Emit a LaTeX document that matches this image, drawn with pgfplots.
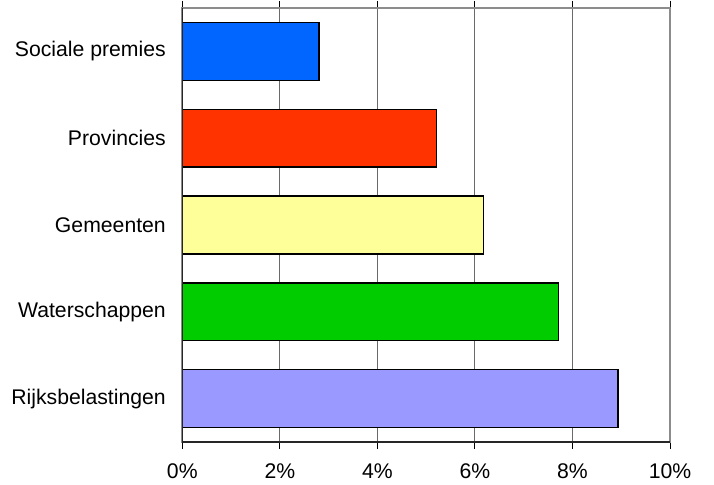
\documentclass[border=0pt]{standalone}
\usepackage{pgfplots}
\pgfplotsset{compat=1.18}
\usepackage{fontspec}
\setmainfont{Liberation Sans}

\definecolor{barblue}{HTML}{0066FF}
\definecolor{barred}{HTML}{FF3300}
\definecolor{baryellow}{HTML}{FFFF99}
\definecolor{bargreen}{HTML}{00CC00}
\definecolor{barlilac}{HTML}{9999FF}
\definecolor{gridgray}{HTML}{6A6A6A}
\definecolor{framegray}{HTML}{8C8C8C}

\begin{document}
\begin{tikzpicture}
\useasboundingbox (0,0) rectangle (714bp,485bp);
\begin{axis}[
  at={(182.3bp,43bp)}, anchor=south west,
  scale only axis,
  width=487.7bp, height=434bp,
  xbar, bar width=0.665, bar shift=0pt,
  xmin=0, xmax=10,
  ymin=-0.5, ymax=4.5,
  xtick={0,2,...,10},
  xticklabels={0\%,2\%,4\%,6\%,8\%,10\%},
  ytick={0,1,2,3,4},
  yticklabels={Rijksbelastingen,Waterschappen,Gemeenten,Provincies,Sociale premies},
  extra y ticks={-0.5,0.5,1.5,2.5,3.5,4.5},
  extra y tick labels={},
  extra y tick style={major tick length=6bp, grid=none, tick style={black, line width=1bp}},
  ytick style={draw=none},
  tick align=outside,
  xtick style={black, line width=1bp},
  major tick length=7bp,
  xmajorgrids,
  major grid style={gridgray, line width=1.1bp},
  axis line style={framegray, line width=1.6bp},
  tick label style={font=\fontsize{21.2bp}{25bp}\selectfont, text=black},
  xticklabel style={yshift=-11bp},
  yticklabel style={xshift=-6bp},
  every axis plot/.append style={draw=black, line width=1.4bp},
  clip=false,
]
\addplot[fill=barlilac]  coordinates {(8.93,0)};
\addplot[fill=bargreen]  coordinates {(7.71,1)};
\addplot[fill=baryellow] coordinates {(6.18,2)};
\addplot[fill=barred]    coordinates {(5.21,3)};
\addplot[fill=barblue]   coordinates {(2.80,4)};
\draw[black!85, line width=1.4bp] (axis description cs:0,1) -- (axis description cs:0,0) -- (axis description cs:1,0);
\end{axis}
\end{tikzpicture}
\end{document}
